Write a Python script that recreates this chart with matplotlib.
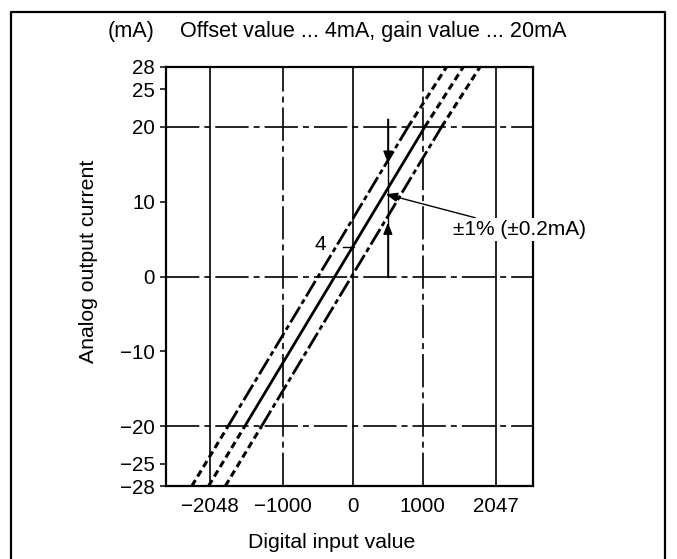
import matplotlib
matplotlib.use("Agg")
import matplotlib.pyplot as plt
from matplotlib.lines import Line2D

plt.rcParams['font.family'] = ['Liberation Sans', 'DejaVu Sans']
plt.rcParams['lines.scale_dashes'] = False

# ---- data ----
x_ticks = [-2048, -1000, 0, 1000, 2047]
y_ticks = [28, 25, 20, 10, 0, -10, -20, -25, -28]
solid_vlines = [-2048, 0, 2047]
dashdot_vlines = [-1000, 1000]
dashdot_hlines = [20, 0, -20]

# characteristic (offset 4 mA, gain 20 mA at 1000) as drawn
center_x = [-2070, -1550, 1030, 1580]
center_y = [-28, -20, 20, 28]
# tolerance band lines (drawn exaggerated)
upper_x = [-2310, -1790, 790, 1340]
lower_x = [-1830, -1310, 1270, 1820]
band_y = [-28, -20, 20, 28]

offset_label_xy = (-470, 4.3)
offset_leader_x = [-145, 10]
offset_leader_y = [4, 4]
meas_x = [500, 500]
meas_y = [0, 21]
arrow_down_tip = 15.2
arrow_up_tip = 7.2
tol_text = "\u00b11% (\u00b10.2mA)"
tol_text_xy = (1430, 6.3)
tol_arrow_tip = (470, 11.0)

FS_TICK = 14.8
FS_LABEL = 15.3
FS_TITLE = 15.6
FS_ANN = 15.0

fig = plt.figure(figsize=(6.77, 5.59), dpi=100)
ax = fig.add_axes([166/677, 1-486/559, (533-166)/677, (486-67)/559])
ax.set_xlim(-2680, 2580)
ax.set_ylim(-28, 28)

grid_lw = 1.2
dashdot = (0, (24, 3.6, 4.3, 3.6))
for xv in solid_vlines:
    ax.axvline(xv, color='black', lw=grid_lw)
for xv in dashdot_vlines:
    ax.axvline(xv, color='black', lw=grid_lw, linestyle=dashdot)
for yv in dashdot_hlines:
    ax.axhline(yv, color='black', lw=grid_lw, linestyle=dashdot)

short = (0, (5, 3))
band_ls = (0, (13, 2.6, 3.6, 2.6))

# center line
ax.plot(center_x[1:3], center_y[1:3], color='black', lw=2.0, solid_capstyle='butt')
ax.plot(center_x[0:2], center_y[0:2], color='black', lw=2.2, linestyle=short)
ax.plot(center_x[2:4], center_y[2:4], color='black', lw=2.2, linestyle=short)
# band lines
for bx in (upper_x, lower_x):
    ax.plot(bx[1:3], band_y[1:3], color='black', lw=2.0, linestyle=band_ls)
    ax.plot(bx[0:2], band_y[0:2], color='black', lw=2.2, linestyle=short)
    ax.plot(bx[2:4], band_y[2:4], color='black', lw=2.2, linestyle=short)

# offset marker
ax.plot(offset_leader_x, offset_leader_y, color='black', lw=1.0)
ax.text(offset_label_xy[0], offset_label_xy[1], "4", fontsize=FS_ANN,
        ha='center', va='center')

# measurement line with arrows
ax.plot(meas_x, meas_y, color='black', lw=1.0)
ax.annotate('', xy=(meas_x[0], arrow_down_tip), xytext=(meas_x[0], meas_y[1]),
            arrowprops=dict(arrowstyle='-|>,head_length=0.5,head_width=0.2',
                            color='black', lw=1.0,
                            mutation_scale=14, shrinkA=0, shrinkB=0))
ax.annotate('', xy=(meas_x[0], arrow_up_tip), xytext=(meas_x[0], meas_y[0]),
            arrowprops=dict(arrowstyle='-|>,head_length=0.5,head_width=0.2',
                            color='black', lw=1.0,
                            mutation_scale=14, shrinkA=0, shrinkB=0))

# tolerance annotation (white backing like the reference, gridline is interrupted)
ax.annotate(tol_text, xy=tol_arrow_tip, xytext=tol_text_xy, fontsize=FS_ANN,
            ha='left', va='center', zorder=5,
            bbox=dict(facecolor='white', edgecolor='none', pad=1.5),
            arrowprops=dict(arrowstyle='-|>,head_length=0.5,head_width=0.2',
                            color='black', lw=1.0,
                            mutation_scale=14, shrinkA=0, shrinkB=0))

# ticks
ax.set_xticks(x_ticks)
ax.set_xticklabels([str(v).replace('-', '\u2212') for v in x_ticks], fontsize=FS_TICK)
ax.set_yticks(y_ticks)
ax.set_yticklabels([str(v).replace('-', '\u2212') for v in y_ticks], fontsize=FS_TICK)
ax.tick_params(axis='x', length=0, pad=8.0)
ax.tick_params(axis='y', length=4.3, width=1.1, pad=3.5, direction='out')
for s in ax.spines.values():
    s.set_linewidth(1.6)

# texts
fig.text(108/677, 1-37/559, "(mA)", fontsize=FS_TITLE, ha='left', va='baseline')
fig.text(180/677, 1-37/559, "Offset value ... 4mA, gain value ... 20mA",
         fontsize=FS_TITLE, ha='left', va='baseline')
fig.text(89/677, 1-261/559, "Analog output current", fontsize=FS_LABEL,
         rotation=90, ha='center', va='center')
fig.text(332/677, 1-548/559, "Digital input value", fontsize=FS_LABEL,
         ha='center', va='baseline')

# outer border (left, top, right)
bl, bt, br = 11/677, 1-12/559, 665/677
fig.add_artist(Line2D([bl, bl, br, br], [0, bt, bt, 0], color='black', lw=1.6,
                      transform=fig.transFigure))

fig.savefig("out.png", dpi=100)
